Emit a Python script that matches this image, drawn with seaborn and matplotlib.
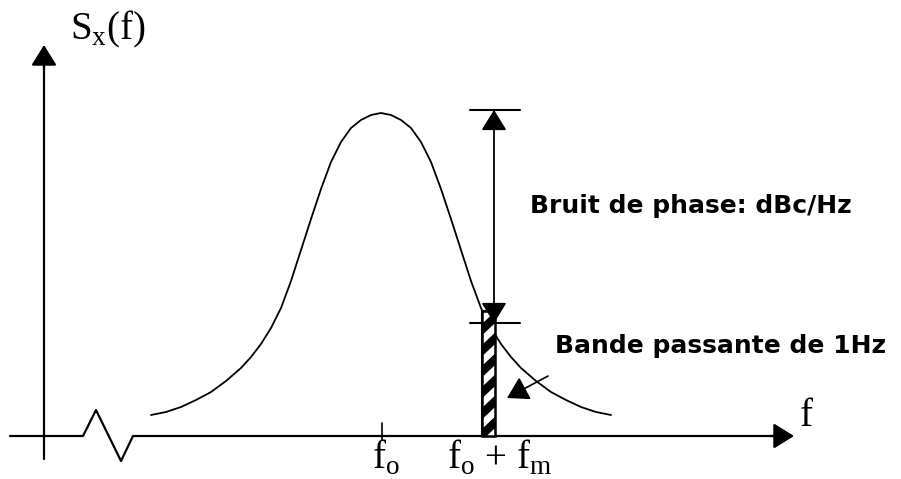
import numpy as np
import pandas as pd
import seaborn as sns
import matplotlib.pyplot as plt

# bell curve S_x(f) (x to the right, y downward as in the picture)
curve_f = [151, 166, 181, 196, 211, 226, 241, 251, 261, 271, 281, 291, 301, 311, 321,
           331, 341, 351, 361, 371, 381, 391, 401, 411, 421, 431, 441, 451, 461, 471,
           481, 491, 501, 511, 521, 536, 551, 566, 581, 596, 611]
curve_s = [415, 412, 407, 400, 392, 381, 368, 357, 344, 328, 308, 281, 250, 219, 189,
           162, 142, 128, 120, 115, 113, 115, 120, 128, 142, 162, 189, 219, 250, 281,
           308, 328, 344, 357, 368, 381, 392, 400, 407, 412, 415]

# horizontal axis with its break
axis_f = [10, 83, 96, 121, 133, 778]
axis_s = [436, 436, 410, 461, 436, 436]

f0 = 382
fm_left, fm_right = 482, 495
fm_top = 311
level_top, level_bottom = 110, 323

sns.set_theme(style='white')
plt.rcParams['mathtext.fontset'] = 'custom'
plt.rcParams['mathtext.rm'] = 'Liberation Serif'

fig = plt.figure(figsize=(9.01, 4.79), dpi=100)
ax = fig.add_axes([0, 0, 1, 1])
ax.set_xlim(0, 901)
ax.set_ylim(479, 0)
ax.axis('off')

df = pd.DataFrame({'f': curve_f, 's': curve_s})
sns.lineplot(data=df, x='f', y='s', color='black', lw=1.3, estimator=None, sort=False, ax=ax)

ax.plot(axis_f, axis_s, color='black', lw=1.6)
ax.plot([44, 44], [459, 60], color='black', lw=1.6)
ax.plot([f0, f0], [423, 440], color='black', lw=1.2)

arrow = '-|>,head_length=0.45,head_width=0.28'
ax.annotate('', xy=(44, 45), xytext=(44, 70),
            arrowprops=dict(arrowstyle=arrow, color='black', lw=1.6, mutation_scale=28, shrinkA=0, shrinkB=0))
ax.annotate('', xy=(794, 436), xytext=(770, 436),
            arrowprops=dict(arrowstyle=arrow, color='black', lw=1.6, mutation_scale=28, shrinkA=0, shrinkB=0))

# 1 Hz band: black bar with white diagonal stripes
bars = ax.bar((fm_left + fm_right) / 2, fm_top - 436, bottom=436, width=fm_right - fm_left,
              color='black', edgecolor='black', lw=1.5, zorder=3)
band = bars.patches[0]
for y0 in np.arange(fm_top + 2, 436 + 6, 21):
    stripe, = ax.plot([fm_left - 2, fm_right + 2], [y0 + 8, y0 - 8], color='white', lw=5,
                      solid_capstyle='butt', zorder=4)
    stripe.set_clip_path(band)
ax.bar((fm_left + fm_right) / 2, fm_top - 436, bottom=436, width=fm_right - fm_left,
       fill=False, edgecolor='black', lw=1.8, zorder=5)

# level markers and double arrow
ax.plot([470, 520], [level_top, level_top], color='black', lw=1.5)
ax.plot([470, 520], [level_bottom, level_bottom], color='black', lw=1.5, zorder=6)
ax.annotate('', xy=(494, level_top), xytext=(494, level_bottom),
            arrowprops=dict(arrowstyle='<|-|>,head_length=0.45,head_width=0.28', color='black',
                            lw=1.3, mutation_scale=28, shrinkA=0, shrinkB=0), zorder=6)
ax.annotate('', xy=(507, 398), xytext=(548, 376),
            arrowprops=dict(arrowstyle='-|>,head_length=0.5,head_width=0.3', color='black',
                            lw=1.2, mutation_scale=26, shrinkA=0, shrinkB=0))

serif = dict(family='Liberation Serif', fontsize=28, color='black', va='baseline', ha='left')
ax.text(70, 39, r'S$_\mathrm{x}$(f)', **serif)
ax.text(800, 426, 'f', **serif)
ax.text(372, 469, r'f$_\mathrm{o}$', **serif, zorder=7)
ax.text(447, 469, r'f$_\mathrm{o}$ + f$_\mathrm{m}$', **serif, zorder=7)

sans = dict(family='DejaVu Sans', fontsize=18, fontweight='bold', color='black', va='baseline', ha='left')
ax.text(530, 213, 'Bruit de phase: dBc/Hz', **sans)
ax.text(555, 353, 'Bande passante de 1Hz', **sans)

fig.savefig('out.png', dpi=100)
